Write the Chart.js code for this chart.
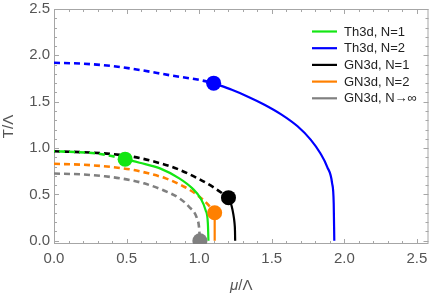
<!DOCTYPE html>
<html>
<head>
<meta charset="utf-8">
<script src="https://cdn.jsdelivr.net/npm/chart.js@4.4.0/dist/chart.umd.min.js"></script>
<style>
  html, body { margin: 0; padding: 0; background: #fff; }
</style>
</head>
<body>
<canvas id="c" width="436" height="294"></canvas>
<script>
// Th3d, N=1 (green)
const greenDashMu = [0, 0.15, 0.3, 0.42, 0.49];
const greenDashT  = [0.965, 0.957, 0.94, 0.907, 0.88];
const greenMu = [0.49, 0.59, 0.73, 0.863, 0.953, 1.01, 1.044, 1.06, 1.064];
const greenT  = [0.88, 0.842, 0.781, 0.673, 0.565, 0.457, 0.331, 0.188, 0];

// Th3d, N=2 (blue)
const blueDashMu = [0, 0.2, 0.4, 0.6, 0.8, 1.0, 1.1];
const blueDashT  = [1.92, 1.91, 1.885, 1.84, 1.785, 1.735, 1.70];
const blueMu = [1.1, 1.225, 1.34, 1.45, 1.565, 1.678, 1.768, 1.836, 1.882, 1.916, 1.927, 1.931];
const blueT  = [1.70, 1.628, 1.552, 1.468, 1.364, 1.235, 1.091, 0.941, 0.798, 0.62, 0.403, 0];

// GN3d, N=1 (black)
const blackDashMu = [0, 0.2, 0.4, 0.55, 0.7, 0.85, 1.0, 1.1, 1.202];
const blackDashT  = [0.965, 0.955, 0.935, 0.905, 0.85, 0.775, 0.665, 0.575, 0.465];
const blackMu = [1.202, 1.215, 1.225, 1.235, 1.243, 1.247, 1.248];
const blackT  = [0.465, 0.42, 0.367, 0.29, 0.2, 0.1, 0];

// GN3d, N=2 (orange)
const orangeDashMu = [0, 0.2, 0.4, 0.55, 0.65, 0.77, 0.9, 0.99, 1.055, 1.107];
const orangeDashT  = [0.83, 0.82, 0.795, 0.763, 0.727, 0.673, 0.58, 0.49, 0.40, 0.302];
const orangeMu = [1.107, 1.107];
const orangeT  = [0.302, 0];

// GN3d, N->inf (gray)
const grayDashMu = [0, 0.2, 0.35, 0.5, 0.62, 0.75, 0.865, 0.93, 0.985, 1.0, 1.005];
const grayDashT  = [0.725, 0.715, 0.695, 0.662, 0.619, 0.547, 0.457, 0.367, 0.242, 0.134, 0];

// tricritical / end points
const dotMu = [0.49, 1.10, 1.202, 1.107, 1.005];
const dotT  = [0.88, 1.70, 0.465, 0.302, 0];

const xTicks = [0, 0.5, 1, 1.5, 2, 2.5];
const yTicks = [0, 0.5, 1, 1.5, 2, 2.5];

const legendNames = ['Th3d, N=1', 'Th3d, N=2', 'GN3d, N=1', 'GN3d, N=2', 'GN3d, N\u2192\u221e'];
const colors = ['#14e614', '#0000ff', '#000000', '#ff8000', '#808080'];

const FONT = "'Liberation Sans', Arial, sans-serif";
Chart.defaults.font.family = FONT;

function pts(xs, ys) {
  return xs.map((x, i) => ({ x: x, y: ys[i] }));
}

function curve(xs, ys, color, dashed, order, offset) {
  return {
    data: pts(xs, ys),
    showLine: true,
    borderColor: color,
    borderWidth: dashed ? 2.6 : 2.2,
    borderDash: dashed ? [6, 4] : [],
    borderDashOffset: offset || 0,
    pointRadius: 0,
    cubicInterpolationMode: 'monotone',
    order: order
  };
}

// no automatic label padding, the layout padding decides the plot box
function noPad(s) {
  s.paddingTop = 0; s.paddingBottom = 0;
  s.paddingLeft = 0; s.paddingRight = 0;
}

// frame, inward ticks, legend and x title
const framePlugin = {
  id: 'framePlugin',
  beforeDatasetsDraw(chart) {
    const ctx = chart.ctx;
    const a = chart.chartArea;
    const xs = chart.scales.x, ys = chart.scales.y;
    ctx.save();
    ctx.strokeStyle = '#a6a6a6';
    ctx.lineWidth = 1;
    ctx.strokeRect(a.left + 0.5, a.top + 0.5, a.right - a.left - 1, a.bottom - a.top - 1);
    ctx.beginPath();
    for (let i = 0; i <= 25; i++) {
      const v = i / 10;
      const len = i % 5 === 0 ? 5 : 3;
      const px = Math.round(xs.getPixelForValue(v)) + 0.5;
      ctx.moveTo(px, a.bottom); ctx.lineTo(px, a.bottom - len);
      ctx.moveTo(px, a.top); ctx.lineTo(px, a.top + len);
      const py = Math.round(ys.getPixelForValue(v)) + 0.5;
      ctx.moveTo(a.left, py); ctx.lineTo(a.left + len, py);
      ctx.moveTo(a.right, py); ctx.lineTo(a.right - len, py);
    }
    ctx.stroke();
    ctx.restore();
  },
  afterDraw(chart) {
    const ctx = chart.ctx;
    const a = chart.chartArea;
    ctx.save();
    // legend
    ctx.font = '13px ' + FONT;
    ctx.textBaseline = 'middle';
    ctx.textAlign = 'left';
    legendNames.forEach((name, i) => {
      const y = 31.5 + i * 16.7;
      ctx.strokeStyle = colors[i];
      ctx.lineWidth = 2.2;
      ctx.beginPath();
      ctx.moveTo(312, y); ctx.lineTo(337, y);
      ctx.stroke();
      ctx.fillStyle = '#222';
      ctx.fillText(name, 344, y + 0.5);
    });
    // x title: italic mu, upright /Λ
    const cx = (a.left + a.right) / 2;
    const ty = 286;
    ctx.fillStyle = '#555';
    ctx.font = 'italic 15px ' + FONT;
    const w1 = ctx.measureText('\u03bc').width;
    ctx.font = '15px ' + FONT;
    const w2 = ctx.measureText('/\u039b').width;
    const x0 = cx - (w1 + w2) / 2;
    ctx.font = 'italic 15px ' + FONT;
    ctx.fillText('\u03bc', x0, ty);
    ctx.font = '15px ' + FONT;
    ctx.fillText('/\u039b', x0 + w1, ty);
    ctx.restore();
  }
};

new Chart(document.getElementById('c'), {
  type: 'scatter',
  data: {
    datasets: [
      {
        data: pts(dotMu, dotT),
        pointRadius: 7.5,
        pointHoverRadius: 7.5,
        pointBackgroundColor: colors,
        pointBorderWidth: 0,
        showLine: false,
        order: 0
      },
      curve(greenDashMu, greenDashT, colors[0], true, 2, 5),
      curve(greenMu, greenT, colors[0], false, 1),
      curve(blackDashMu, blackDashT, colors[2], true, 3),
      curve(blackMu, blackT, colors[2], false, 3),
      curve(blueDashMu, blueDashT, colors[1], true, 4),
      curve(blueMu, blueT, colors[1], false, 4),
      curve(orangeDashMu, orangeDashT, colors[3], true, 5),
      Object.assign(curve(orangeMu, orangeT, colors[3], false, 5), { cubicInterpolationMode: 'default', tension: 0 }),
      curve(grayDashMu, grayDashT, colors[4], true, 6)
    ]
  },
  options: {
    responsive: false,
    animation: false,
    devicePixelRatio: 1,
    layout: { padding: { top: 9, right: 1, left: 0, bottom: 0 } },
    plugins: {
      legend: { display: false },
      tooltip: { enabled: false }
    },
    scales: {
      x: {
        type: 'linear',
        min: 0,
        max: 2.58,
        afterBuildTicks: s => { s.ticks = xTicks.map(v => ({ value: v })); },
        afterFit: s => { s.height = 50; noPad(s); },
        grid: { display: false, drawTicks: false },
        border: { display: false },
        ticks: {
          color: '#555',
          font: { size: 15 },
          padding: 6,
          maxRotation: 0,
          callback: v => Number(v).toFixed(1)
        }
      },
      y: {
        type: 'linear',
        min: -0.035,
        max: 2.5,
        afterBuildTicks: s => { s.ticks = yTicks.map(v => ({ value: v })); },
        afterFit: s => { s.width = 54; noPad(s); },
        grid: { display: false, drawTicks: false },
        border: { display: false },
        ticks: {
          color: '#555',
          font: { size: 15 },
          padding: 4,
          callback: v => Number(v).toFixed(1)
        },
        title: {
          display: true,
          text: 'T/\u039b',
          color: '#555',
          font: { size: 15 },
          padding: 0
        }
      }
    }
  },
  plugins: [framePlugin]
});
</script>
</body>
</html>
